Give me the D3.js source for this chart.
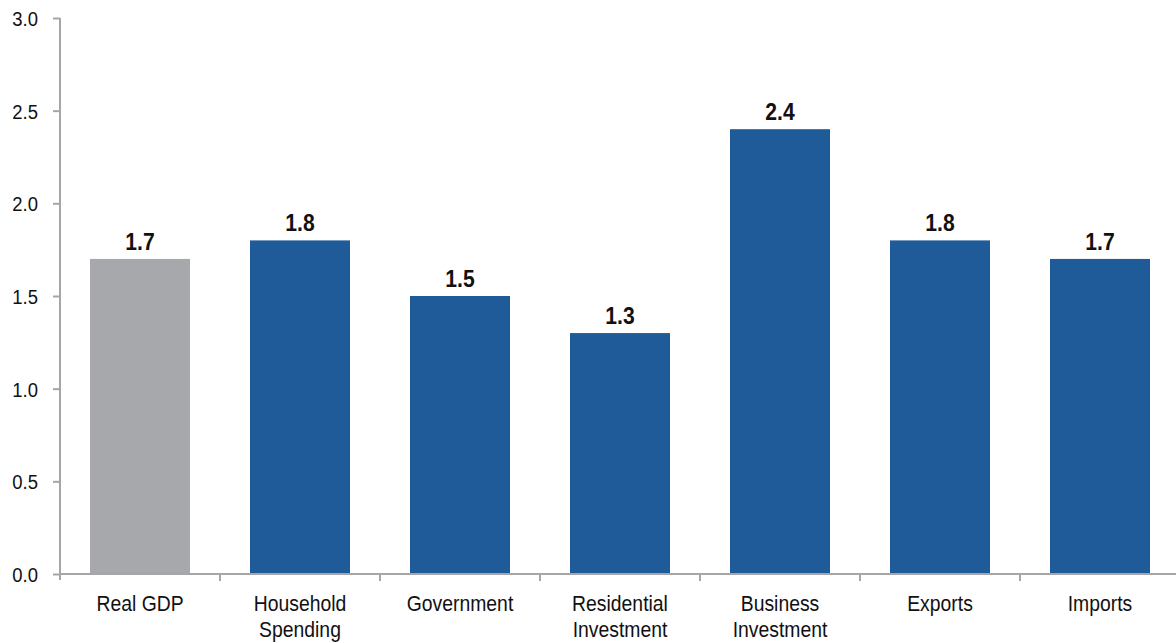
<!DOCTYPE html>
<html>
<head>
<meta charset="utf-8">
<script src="https://cdn.jsdelivr.net/npm/d3@7"></script>
<style>
  html, body { margin: 0; padding: 0; background: #fff; }
  svg { display: block; font-family: "Liberation Sans Narrow", "Arial Narrow", "Liberation Sans", sans-serif; }
</style>
</head>
<body>
<svg id="chart" width="1176" height="643"></svg>
<script>
// Contributions by component
const categories = ["Real GDP", "Household\nSpending", "Government", "Residential\nInvestment", "Business\nInvestment", "Exports", "Imports"];
const values = [1.7, 1.8, 1.5, 1.3, 2.4, 1.8, 1.7];
const yTicks = [0, 0.5, 1.0, 1.5, 2.0, 2.5, 3.0];

const svg = d3.select("#chart");
const plotLeft = 60, plotRight = 1180, plotTop = 18, plotBottom = 574;
const axisColor = "#a6a6a8";
const narrow = 0.88; // horizontal condensing for a narrow typeface look

const x = d3.scaleBand().domain(categories).range([plotLeft, plotRight]).paddingInner(0.375).paddingOuter(0.1875);
const y = d3.scaleLinear().domain([0, 3]).range([plotBottom, plotTop]);

// Bars
svg.append("g").selectAll("rect")
  .data(values)
  .join("rect")
  .attr("x", (d, i) => x(categories[i]))
  .attr("y", d => y(d))
  .attr("width", x.bandwidth())
  .attr("height", d => y(0) - y(d))
  .attr("fill", (d, i) => i === 0 ? "#a7a8ab" : "#1f5a99");

// Value labels
svg.append("g").selectAll("text")
  .data(values)
  .join("text")
  .attr("transform", (d, i) => `translate(${x(categories[i]) + x.bandwidth() / 2},${y(d) - 9}) scale(${narrow},1)`)
  .attr("text-anchor", "middle")
  .attr("font-size", 24)
  .attr("font-weight", "bold")
  .attr("fill", "#111")
  .text(d => d.toFixed(1));

// Y axis
const yAxis = svg.append("g")
  .attr("transform", `translate(${plotLeft},0)`)
  .call(d3.axisLeft(y).tickValues(yTicks).tickFormat(d3.format(".1f")).tickSize(7).tickPadding(15));
yAxis.select(".domain").attr("stroke", axisColor).attr("stroke-width", 2)
  .attr("d", `M0,${plotTop}V${plotBottom + 6}`);
yAxis.selectAll(".tick line").attr("stroke", axisColor).attr("stroke-width", 2);
yAxis.selectAll(".tick text")
  .attr("font-size", 21).attr("fill", "#111").attr("font-family", null)
  .attr("x", null).attr("dy", null)
  .attr("transform", `translate(-22,7.5) scale(${narrow},1)`);

// X axis: line with ticks at category boundaries
const xg = svg.append("g");
xg.append("line")
  .attr("x1", plotLeft).attr("x2", plotRight)
  .attr("y1", plotBottom).attr("y2", plotBottom)
  .attr("stroke", axisColor).attr("stroke-width", 2);
const step = x.step();
xg.selectAll("line.sep")
  .data(categories.slice(1))
  .join("line")
  .attr("class", "sep")
  .attr("x1", (d, i) => plotLeft + step * (i + 1))
  .attr("x2", (d, i) => plotLeft + step * (i + 1))
  .attr("y1", plotBottom).attr("y2", plotBottom + 7)
  .attr("stroke", axisColor).attr("stroke-width", 2);

// Category labels
const labels = xg.selectAll("text.cat")
  .data(categories)
  .join("text")
  .attr("class", "cat")
  .attr("text-anchor", "middle")
  .attr("font-size", 22)
  .attr("fill", "#111")
  .attr("transform", d => `translate(${x(d) + x.bandwidth() / 2},${plotBottom + 37}) scale(${narrow},1)`);
labels.selectAll("tspan")
  .data(d => d.split("\n"))
  .join("tspan")
  .attr("x", 0)
  .attr("dy", (d, i) => i === 0 ? 0 : 26)
  .text(d => d);
</script>
</body>
</html>
